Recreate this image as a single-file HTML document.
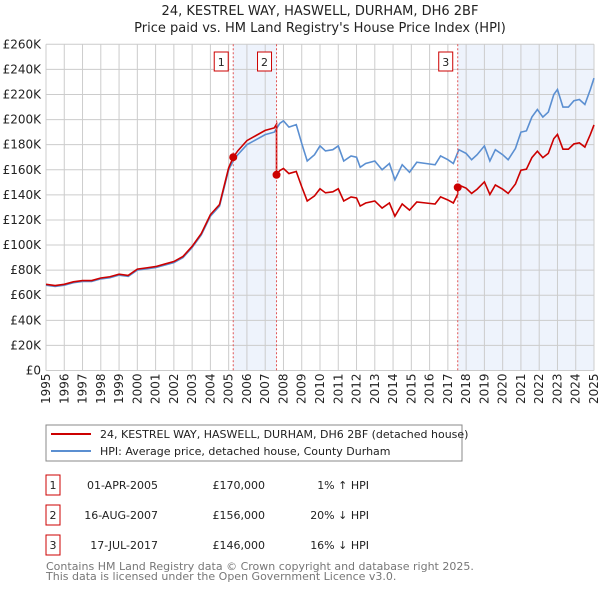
<!DOCTYPE html>
<html><head><meta charset="utf-8"><style>
body{margin:0;background:#fff;font-family:"DejaVu Sans","Liberation Sans",sans-serif;}
svg text{font-family:"DejaVu Sans","Liberation Sans",sans-serif;}
</style></head><body>
<svg id="c" width="600" height="590" xmlns="http://www.w3.org/2000/svg">
<text x="320" y="15" text-anchor="middle" font-size="13" fill="#222">24, KESTREL WAY, HASWELL, DURHAM, DH6 2BF</text>
<text x="320" y="32" text-anchor="middle" font-size="13" fill="#222">Price paid vs. HM Land Registry's House Price Index (HPI)</text>
<g id="plot"></g>
<rect x="46" y="425" width="416" height="36" fill="#fff" stroke="#888"/>
<line x1="51" y1="434" x2="91" y2="434" stroke="#cc0000" stroke-width="2"/>
<text x="100" y="438" font-size="11" fill="#222">24, KESTREL WAY, HASWELL, DURHAM, DH6 2BF (detached house)</text>
<line x1="51" y1="451" x2="91" y2="451" stroke="#5b8fd1" stroke-width="2"/>
<text x="100" y="455" font-size="11" fill="#222">HPI: Average price, detached house, County Durham</text>
<g id="table" font-size="11" fill="#222"></g>
<text x="46" y="570" font-size="11" fill="#777">Contains HM Land Registry data © Crown copyright and database right 2025.</text>
<text x="46" y="580" font-size="11" fill="#777">This data is licensed under the Open Government Licence v3.0.</text>
</svg>
<script>
const hpiYears=[1995,1995.5,1996,1996.5,1997,1997.5,1998,1998.5,1999,1999.5,2000,2000.5,2001,2001.5,2002,2002.5,2003,2003.5,2004,2004.5,2005,2005.25,2005.5,2006,2006.5,2007,2007.5,2007.8,2008,2008.3,2008.7,2009,2009.3,2009.7,2010,2010.3,2010.7,2011,2011.3,2011.7,2012,2012.2,2012.5,2013,2013.4,2013.8,2014.1,2014.5,2014.9,2015.3,2015.8,2016.3,2016.6,2017,2017.3,2017.6,2018,2018.3,2018.6,2019,2019.3,2019.6,2020,2020.3,2020.7,2021,2021.3,2021.6,2021.9,2022.2,2022.5,2022.8,2023,2023.3,2023.6,2023.9,2024.2,2024.5,2024.8,2025];
const hpiValues=[68,67,68,70,71,71,73,74,76,75,80,81,82,84,86,90,98,108,123,131,160,167,172,180,184,188,190,197,199,194,196,181,167,172,179,175,176,179,167,171,170,162,165,167,160,165,152,164,158,166,165,164,171,168,165,176,173,168,172,179,167,176,172,168,177,190,191,202,208,202,206,220,224,210,210,215,216,212,224,233];
const saleYears=[2005.25,2007.62,2017.54];
const salePrices=[170000,156000,146000];
const saleLabels=["1","2","3"];
const saleDates=["01-APR-2005","16-AUG-2007","17-JUL-2017"];
const saleDiffs=["1% \u2191 HPI","20% \u2193 HPI","16% \u2193 HPI"];
const yTicks=[0,20,40,60,80,100,120,140,160,180,200,220,240,260];
const xTicks=[1995,1996,1997,1998,1999,2000,2001,2002,2003,2004,2005,2006,2007,2008,2009,2010,2011,2012,2013,2014,2015,2016,2017,2018,2019,2020,2021,2022,2023,2024,2025];
const X0=46,X1=594,Y0=370.5,Y1=44.3;
const sx=y=>X0+(y-1995)/30*(X1-X0);
const sy=v=>Y0-v/260*(Y0-Y1);
const NS="http://www.w3.org/2000/svg";
const g=document.getElementById('plot');
function mk(t,a,p){const e=document.createElementNS(NS,t);for(const k in a)e.setAttribute(k,a[k]);(p||g).appendChild(e);return e;}
let r=mk('rect',{x:sx(saleYears[0]),y:Y1,width:sx(saleYears[1])-sx(saleYears[0]),height:Y0-Y1,fill:'#eef3fc'});


r=mk('rect',{x:sx(saleYears[2]),y:Y1,width:X1-sx(saleYears[2]),height:Y0-Y1,fill:'#eef3fc'});


yTicks.forEach(t=>{
 const l=mk('line',{x1:X0,x2:X1,y1:sy(t),y2:sy(t),stroke:'#cccccc','stroke-width':1});
 
 
 const tx=mk('text',{x:X0-5,y:sy(t)+4,'text-anchor':'end','font-size':12,fill:'#222'});
 tx.textContent=t===0?'£0':'£'+t+'K';
 
 
});
xTicks.forEach(t=>{
 const l=mk('line',{x1:sx(t),x2:sx(t),y1:Y1,y2:Y0,stroke:'#cccccc','stroke-width':1});
 
 
 const tx=mk('text',{x:0,y:0,'text-anchor':'end','font-size':12,fill:'#222',transform:`translate(${sx(t)+4},${Y0+3}) rotate(-90)`});
 tx.textContent=t;
 
 
});
function interp(y){for(let i=1;i<hpiYears.length;i++){if(y<=hpiYears[i]){const a=hpiYears[i-1],b=hpiYears[i];return hpiValues[i-1]+(hpiValues[i]-hpiValues[i-1])*(y-a)/(b-a);}}return hpiValues[hpiValues.length-1];}
function factor(y){let f=1.01;for(let i=0;i<saleYears.length;i++){if(y>=saleYears[i]){const hv=interp(saleYears[i]);f=salePrices[i]/1000/hv;}}return y<saleYears[0]?1.01:f;}
const hp=mk('polyline',{points:hpiYears.map((y,i)=>sx(y)+','+sy(hpiValues[i])).join(' '),fill:'none',stroke:'#5b8fd1','stroke-width':1.6});


let pts=[];
hpiYears.forEach((y,i)=>{
 saleYears.forEach((s,k)=>{if(k>0&&y>s&&(i===0||hpiYears[i-1]<=s)){pts.push(sx(s)+','+sy(interp(s)*factor(s-0.001)));pts.push(sx(s)+','+sy(salePrices[k]/1000));}});
 pts.push(sx(y)+','+sy(hpiValues[i]*factor(y)));
});
const pl=mk('polyline',{points:pts.join(' '),fill:'none',stroke:'#cc0000','stroke-width':1.6});


saleYears.forEach((s,i)=>{
 const l=mk('line',{x1:sx(s),x2:sx(s),y1:Y1,y2:Y0,stroke:'#e05555','stroke-dasharray':'2,2','stroke-width':1});
 
 
 const c=mk('circle',{cx:sx(s),cy:sy(salePrices[i]/1000),r:4,fill:'#cc0000'});
 
 
 const b=mk('rect',{x:sx(s)-19,y:52,width:14,height:19,fill:'#fff',stroke:'#cc0000'});
 
 
 const t=mk('text',{x:sx(s)-12,y:66,'text-anchor':'middle','font-size':11,fill:'#222'});
 t.textContent=saleLabels[i];
 
 
});
const tb=document.getElementById('table');
saleYears.forEach((s,i)=>{
 const y=485+i*30;
 const b=mk('rect',{x:46,y:y-10,width:14,height:20,fill:'#fff',stroke:'#cc0000'},tb);
 
 
 let t=mk('text',{x:53,y:y+4,'text-anchor':'middle'},tb);t.textContent=saleLabels[i];
 
 
 t=mk('text',{x:158,y:y+4,'text-anchor':'end'},tb);t.textContent=saleDates[i];
 
 
 t=mk('text',{x:265,y:y+4,'text-anchor':'end'},tb);t.textContent='£'+salePrices[i].toLocaleString('en-GB');
 
 
 t=mk('text',{x:369,y:y+4,'text-anchor':'end'},tb);t.textContent=saleDiffs[i];
 
 
});
</script>
</body></html>
